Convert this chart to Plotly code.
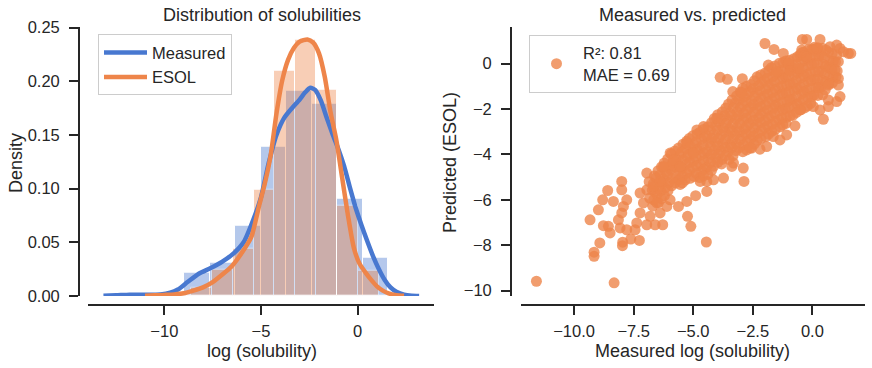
import plotly.graph_objects as go

# ---------------- data ----------------
# histogram (density) of measured log solubility: bin edges + densities
meas_edges = [-11.6, -10.282, -8.964, -7.646, -6.328, -5.01, -3.692, -2.374, -1.056, 0.262, 1.58]
meas_density = [0.0007, 0.003, 0.0218, 0.0308, 0.0656, 0.139, 0.191, 0.179, 0.0908, 0.0358]

# histogram (density) of ESOL predictions
esol_edges = [-9.702, -8.623, -7.543, -6.464, -5.385, -4.305, -3.226, -2.147, -1.067, 0.012, 1.091]
esol_density = [0.0016, 0.0078, 0.0246, 0.0442, 0.0986, 0.2096, 0.239, 0.192, 0.0846, 0.0233]

# KDE curves
kde_meas_x = [-13.15, -12.5, -11.8, -11.0, -10.2, -9.7, -9.3, -8.8, -8.2, -7.6, -7.0, -6.4, -5.9, -5.4,
              -5.0, -4.6, -4.2, -3.8, -3.4, -3.0, -2.7, -2.45, -2.2, -1.9, -1.6, -1.3, -1.0, -0.7,
              -0.4, -0.1, 0.2, 0.5, 0.8, 1.1, 1.4, 1.7, 2.0, 2.4, 2.8, 3.18]
kde_meas_y = [0.0002, 0.0006, 0.0012, 0.0012, 0.0015, 0.003, 0.006, 0.013, 0.021, 0.026, 0.032, 0.040,
              0.050, 0.071, 0.092, 0.124, 0.150, 0.166, 0.175, 0.183, 0.190, 0.194, 0.192, 0.182,
              0.166, 0.151, 0.137, 0.121, 0.101, 0.082, 0.066, 0.051, 0.037, 0.025, 0.015, 0.008,
              0.004, 0.0012, 0.0003, 0.0001]

kde_esol_x = [-11.0, -10.5, -10.0, -9.5, -9.0, -8.5, -8.0, -7.5, -7.0, -6.5, -6.0, -5.5, -5.1, -4.8,
              -4.5, -4.2, -3.9, -3.6, -3.3, -3.0, -2.6, -2.3, -2.0, -1.7, -1.4, -1.1, -0.8, -0.5,
              -0.2, 0.1, 0.4, 0.7, 1.0, 1.3, 1.6, 2.0, 2.4]
kde_esol_y = [0.0002, 0.0006, 0.001, 0.0015, 0.0025, 0.005, 0.008, 0.013, 0.020, 0.028, 0.040, 0.055,
              0.084, 0.105, 0.131, 0.170, 0.201, 0.220, 0.231, 0.237, 0.239, 0.236, 0.226, 0.204,
              0.171, 0.145, 0.110, 0.075, 0.045, 0.030, 0.022, 0.015, 0.009, 0.005, 0.0025, 0.0008,
              0.0002]

# scatter: measured (x) vs ESOL predicted (y)
# dense core, part A
core_a_measured = [
    -6.85, -6.72, -6.83, -6.7,
    -6.48, -6.56, -6.44, -6.52, -6.46,
    -6.22, -6.15, -6.25, -6.18, -6.21,
    -5.92, -5.86, -5.95, -5.88, -5.91,
    -5.62, -5.57, -5.64, -5.58, -5.61, -5.55,
    -5.28, -5.33, -5.26, -5.31, -5.27, -5.34,
    -5.02, -4.97, -5.04, -4.98, -5.03, -4.96,
    -4.72, -4.66, -4.74, -4.68, -4.71, -4.65, -4.73,
    -4.38, -4.43, -4.36, -4.42, -4.37, -4.44, -4.39,
    -4.12, -4.06, -4.13, -4.08, -4.11, -4.05, -4.14,
    -3.78, -3.83, -3.76, -3.82, -3.77, -3.84, -3.79, -3.81,
    -3.52, -3.46, -3.53, -3.48, -3.51, -3.45, -3.54, -3.49,
    -3.18, -3.23, -3.16, -3.22, -3.17, -3.24, -3.19, -3.21,
    -2.92, -2.86, -2.93, -2.88, -2.91, -2.85, -2.94, -2.89, -2.92,
    -2.58, -2.63, -2.56, -2.62, -2.57, -2.64, -2.59, -2.61, -2.55,
    -2.32, -2.26, -2.33, -2.28, -2.31, -2.25, -2.34, -2.29, -2.31,
    -1.98, -2.03, -1.96, -2.02, -1.97, -2.04, -1.99, -2.01, -1.95,
    -1.72, -1.66, -1.73, -1.68, -1.71, -1.65, -1.74, -1.69, -1.71,
    -1.38, -1.43, -1.36, -1.42, -1.37, -1.44, -1.39, -1.41, -1.35,
    -1.12, -1.06, -1.13, -1.08, -1.11, -1.05, -1.14, -1.09, -1.11,
    -0.78, -0.83, -0.76, -0.82, -0.77, -0.84, -0.79, -0.81,
    -0.52, -0.46, -0.53, -0.48, -0.51, -0.45, -0.54, -0.49,
    -0.18, -0.23, -0.16, -0.22, -0.17, -0.24, -0.19, -0.21,
    0.08, 0.14, 0.07, 0.12, 0.09, 0.15, 0.06,
    0.42, 0.37, 0.44, 0.38, 0.41, 0.36, 0.43,
    0.68, 0.74, 0.67, 0.72, 0.69,
    1.02, 0.97, 1.04, 0.99,
]
core_a_esol = [
    -5.2, -5.57, -5.92, -6.28,
    -4.72, -5.03, -5.42, -5.77, -6.12,
    -4.38, -4.77, -5.08, -5.47, -5.82,
    -3.98, -4.37, -4.68, -5.07, -5.38,
    -3.72, -4.03, -4.42, -4.73, -5.12, -5.32,
    -3.42, -3.73, -4.12, -4.43, -4.82, -5.13,
    -3.18, -3.57, -3.88, -4.27, -4.58, -4.97,
    -3.02, -3.33, -3.72, -4.03, -4.42, -4.73, -5.02,
    -2.78, -3.17, -3.48, -3.87, -4.18, -4.57, -4.88,
    -2.42, -2.73, -3.12, -3.43, -3.82, -4.13, -4.52,
    -2.12, -2.43, -2.82, -3.13, -3.52, -3.83, -4.22, -4.42,
    -1.78, -2.17, -2.48, -2.87, -3.18, -3.57, -3.88, -4.22,
    -1.42, -1.73, -2.12, -2.43, -2.82, -3.13, -3.52, -3.83,
    -1.08, -1.47, -1.78, -2.17, -2.48, -2.87, -3.18, -3.57, -3.88,
    -0.92, -1.23, -1.62, -1.93, -2.32, -2.63, -3.02, -3.33, -3.72,
    -0.58, -0.97, -1.28, -1.67, -1.98, -2.37, -2.68, -3.07, -3.38,
    -0.42, -0.73, -1.12, -1.43, -1.82, -2.13, -2.52, -2.83, -3.22,
    -0.18, -0.57, -0.88, -1.27, -1.58, -1.97, -2.28, -2.67, -2.98,
    0.02, -0.37, -0.68, -1.07, -1.38, -1.77, -2.08, -2.47, -2.78,
    0.12, -0.27, -0.58, -0.97, -1.28, -1.67, -1.98, -2.37, -2.63,
    0.22, -0.17, -0.48, -0.87, -1.18, -1.57, -1.88, -2.27,
    0.38, 0.07, -0.32, -0.63, -1.02, -1.33, -1.72, -2.03,
    0.62, 0.23, -0.08, -0.47, -0.78, -1.17, -1.48, -1.87,
    0.72, 0.33, 0.02, -0.37, -0.68, -1.07, -1.38,
    0.68, 0.37, -0.02, -0.33, -0.72, -1.03, -1.37,
    0.52, 0.13, -0.18, -0.57, -0.88,
    0.38, 0.07, -0.32, -0.58,
]
# dense core, part B (points lying between those of part A)
core_b_measured = [
    -6.63, -6.68, -6.61, -6.66,
    -6.33, -6.38, -6.31, -6.36, -6.34,
    -6.07, -6.02, -6.08, -6.03, -6.06,
    -5.77, -5.72, -5.78, -5.73, -5.76,
    -5.43, -5.48, -5.42, -5.47, -5.44, -5.46,
    -5.17, -5.12, -5.18, -5.13, -5.16, -5.14,
    -4.83, -4.88, -4.82, -4.87, -4.84, -4.86,
    -4.57, -4.52, -4.58, -4.53, -4.56, -4.54, -4.57,
    -4.23, -4.28, -4.22, -4.27, -4.24, -4.26, -4.23,
    -3.97, -3.92, -3.98, -3.93, -3.96, -3.94, -3.97,
    -3.63, -3.68, -3.62, -3.67, -3.64, -3.66, -3.63,
    -3.37, -3.32, -3.38, -3.33, -3.36, -3.34, -3.37, -3.33,
    -3.03, -3.08, -3.02, -3.07, -3.04, -3.06, -3.03, -3.07,
    -2.77, -2.72, -2.78, -2.73, -2.76, -2.74, -2.77, -2.73, -2.76,
    -2.43, -2.48, -2.42, -2.47, -2.44, -2.46, -2.43, -2.47, -2.44,
    -2.17, -2.12, -2.18, -2.13, -2.16, -2.14, -2.17, -2.13, -2.16,
    -1.83, -1.88, -1.82, -1.87, -1.84, -1.86, -1.83, -1.87, -1.84,
    -1.57, -1.52, -1.58, -1.53, -1.56, -1.54, -1.57, -1.53, -1.56,
    -1.23, -1.28, -1.22, -1.27, -1.24, -1.26, -1.23, -1.27, -1.24,
    -0.97, -0.92, -0.98, -0.93, -0.96, -0.94, -0.97, -0.93,
    -0.63, -0.68, -0.62, -0.67, -0.64, -0.66, -0.63, -0.67,
    -0.37, -0.32, -0.38, -0.33, -0.36, -0.34, -0.37, -0.33,
    -0.03, -0.08, -0.02, -0.07, -0.04, -0.06, -0.03, -0.07,
    0.23, 0.28, 0.22, 0.27, 0.24, 0.26, 0.23,
    0.57, 0.52, 0.58, 0.53, 0.56, 0.54,
    0.83, 0.88, 0.82, 0.87, 0.84,
]
core_b_esol = [
    -4.95, -5.3, -5.65, -6.0,
    -4.55, -4.9, -5.25, -5.6, -5.95,
    -4.2, -4.55, -4.9, -5.25, -5.6,
    -3.85, -4.2, -4.55, -4.9, -5.25,
    -3.55, -3.9, -4.25, -4.6, -4.95, -5.25,
    -3.3, -3.65, -4.0, -4.35, -4.7, -5.05,
    -3.1, -3.45, -3.8, -4.15, -4.5, -4.85,
    -2.9, -3.25, -3.6, -3.95, -4.3, -4.65, -4.95,
    -2.6, -2.95, -3.3, -3.65, -4.0, -4.35, -4.7,
    -2.25, -2.6, -2.95, -3.3, -3.65, -4.0, -4.35,
    -1.95, -2.3, -2.65, -3.0, -3.35, -3.7, -4.05,
    -1.6, -1.95, -2.3, -2.65, -3.0, -3.35, -3.7, -4.05,
    -1.25, -1.6, -1.95, -2.3, -2.65, -3.0, -3.35, -3.7,
    -1.0, -1.35, -1.7, -2.05, -2.4, -2.75, -3.1, -3.45, -3.8,
    -0.75, -1.1, -1.45, -1.8, -2.15, -2.5, -2.85, -3.2, -3.55,
    -0.5, -0.85, -1.2, -1.55, -1.9, -2.25, -2.6, -2.95, -3.3,
    -0.3, -0.65, -1.0, -1.35, -1.7, -2.05, -2.4, -2.75, -3.1,
    -0.1, -0.45, -0.8, -1.15, -1.5, -1.85, -2.2, -2.55, -2.9,
    0.05, -0.3, -0.65, -1.0, -1.35, -1.7, -2.05, -2.4, -2.7,
    0.15, -0.2, -0.55, -0.9, -1.25, -1.6, -1.95, -2.3,
    0.3, -0.05, -0.4, -0.75, -1.1, -1.45, -1.8, -2.15,
    0.5, 0.15, -0.2, -0.55, -0.9, -1.25, -1.6, -1.95,
    0.65, 0.3, -0.05, -0.4, -0.75, -1.1, -1.45, -1.75,
    0.7, 0.35, 0.0, -0.35, -0.7, -1.05, -1.4,
    0.6, 0.25, -0.1, -0.45, -0.8, -1.15,
    0.45, 0.1, -0.25, -0.6, -0.85,
]
# sparse / outlying points
sparse_measured = [
    -11.58, -8.32, -9.16, -9.16, -8.92, -9.33, -8.98, -4.45, -7.97, -7.96, -7.26, -7.62,
    -8.80, -8.59, -8.35, -8.0, -8.0, -8.77, -8.56, -8.49, -8.14, -8.07, -7.79, -8.0,
    -7.93, -7.79, -7.44, -7.37, -7.23, -7.09, -7.23, -6.95, -6.95, -6.95, -6.60, -6.28,
    -6.81, -6.39, -6.53, -6.11, -5.97, -5.62, -5.27, -5.24, -5.10, -4.90, -4.43, -6.67,
    -6.39, -6.25, -5.97, -5.83, -5.55, -5.27, -4.99, -4.85, -4.57, -4.01, -3.87, -3.57,
    -2.94, -2.90, -2.87, -3.34, -2.97, -3.38, -3.73, -4.15, -4.43, -4.71,
    -1.99, -1.61, -1.22, -1.01, -0.42, -0.24, 0.32, -0.45, -0.45, -0.35, 0.04, 0.74,
    1.02, 1.16, 1.51, 1.61, 1.30, 1.09, 0.95, 1.09, 1.09, 0.67, 0.67, 1.02, 1.16, 0.67,
    0.32, 0.46, 0.04, -0.52, -0.73, -1.08, -1.36, -1.64, -1.92, -2.20, -2.62, -3.31,
    -1.85, -1.50, -0.94, -0.59, -0.24, 0.18,
]
sparse_esol = [
    -9.59, -9.66, -8.31, -8.49, -7.90, -6.88, -6.44, -7.86, -8.02, -7.87, -7.79, -7.73,
    -6.0, -5.59, -6.07, -5.19, -5.56, -7.14, -7.17, -7.46, -6.88, -7.24, -7.32, -6.58,
    -6.29, -6.0, -7.32, -7.02, -6.58, -6.14, -5.70, -5.56, -4.82, -7.10, -7.10, -7.10,
    -6.73, -6.58, -6.14, -6.29, -6.0, -6.29, -6.07, -6.73, -7.17, -5.82, -5.63, -5.41,
    -5.19, -4.53, -3.94, -4.24, -4.53, -3.50, -3.94, -2.92, -2.77, -2.40, -0.60, -0.69,
    -0.66, -4.60, -5.19, -1.23, -1.28, -4.53, -5.04, -5.12, -5.19, -5.19,
    0.89, 0.63, 0.45, 0.01, 1.07, 1.07, 1.07, 0.60, 0.48, 0.34, 0.60, 0.75,
    0.82, 0.67, 0.45, 0.45, 0.53, 0.09, -0.28, -0.65, -0.94, -0.94, -1.60, -1.67, -1.45, -1.89,
    -2.04, -2.45, -1.89, -2.04, -2.74, -3.14, -3.36, -3.21, -3.65, -3.77, -3.72, -4.38,
    -0.06, -0.35, -0.31, -0.21, 0.31, 0.67,
]

left_yticks = [0.0, 0.05, 0.10, 0.15, 0.20, 0.25]
left_xticks = [-10, -5, 0]
right_xticks = [-10.0, -7.5, -5.0, -2.5, 0.0]
right_yticks = [-10, -8, -6, -4, -2, 0]

BLUE = "#4878d0"
ORANGE = "#ee854a"
INK = "#262626"
FONT = "Liberation Sans, Arial, sans-serif"

W, H = 872, 368


def px_x(p):
    return p / W


def px_y(p):
    return 1 - p / H


fig = go.Figure()

# histograms
meas_centers = [(a + b) / 2 for a, b in zip(meas_edges[:-1], meas_edges[1:])]
meas_widths = [b - a for a, b in zip(meas_edges[:-1], meas_edges[1:])]
esol_centers = [(a + b) / 2 for a, b in zip(esol_edges[:-1], esol_edges[1:])]
esol_widths = [b - a for a, b in zip(esol_edges[:-1], esol_edges[1:])]

fig.add_trace(go.Bar(x=meas_centers, y=meas_density, width=meas_widths,
                     marker=dict(color=BLUE, line=dict(color="white", width=1)),
                     opacity=0.4, showlegend=False, hoverinfo="skip",
                     xaxis="x", yaxis="y"))
fig.add_trace(go.Bar(x=esol_centers, y=esol_density, width=esol_widths,
                     marker=dict(color=ORANGE, line=dict(color="white", width=1)),
                     opacity=0.4, showlegend=False, hoverinfo="skip",
                     xaxis="x", yaxis="y"))

fig.add_trace(go.Scatter(x=kde_meas_x, y=kde_meas_y, mode="lines", name="Measured",
                         line=dict(color=BLUE, width=4.5, shape="spline", smoothing=0.6),
                         xaxis="x", yaxis="y", legend="legend"))
fig.add_trace(go.Scatter(x=kde_esol_x, y=kde_esol_y, mode="lines", name="ESOL",
                         line=dict(color=ORANGE, width=4.5, shape="spline", smoothing=0.6),
                         xaxis="x", yaxis="y", legend="legend"))

all_measured = core_a_measured + core_b_measured + sparse_measured
all_esol = core_a_esol + core_b_esol + sparse_esol
fig.add_trace(go.Scatter(x=all_measured, y=all_esol, mode="markers",
                         name="R²: 0.81<br>MAE = 0.69",
                         marker=dict(color=ORANGE, size=11, opacity=0.8, line=dict(width=0)),
                         xaxis="x2", yaxis="y2", legend="legend2"))

axis_style = dict(showline=True, linecolor=INK, linewidth=1.9, ticks="outside", ticklen=9,
                  tickwidth=1.9, tickcolor=INK, showgrid=False, zeroline=False,
                  tickfont=dict(family=FONT, size=16.5, color=INK))

y_dom = [px_y(296), px_y(26.7)]
x_pos = px_y(305)

fig.update_layout(
    width=W, height=H, margin=dict(l=0, r=0, t=0, b=0, autoexpand=False),
    paper_bgcolor="white", plot_bgcolor="white",
    barmode="overlay", bargap=0,
    font=dict(family=FONT, size=16.5, color=INK),
    xaxis=dict(domain=[px_x(88), px_x(434)], range=[-13.95, 3.95], anchor="free", position=x_pos,
               tickvals=left_xticks, ticklabelstandoff=2, **axis_style),
    yaxis=dict(domain=y_dom, range=[0, 0.2509], anchor="free", position=px_x(79),
               tickvals=left_yticks, tickformat=".2f", ticklabelstandoff=6, **axis_style),
    xaxis2=dict(domain=[px_x(520.7), px_x(865.3)], range=[-12.24, 2.22], anchor="free",
                position=x_pos, tickvals=right_xticks, tickformat=".1f", ticklabelstandoff=2,
                **axis_style),
    yaxis2=dict(domain=y_dom, range=[-10.24, 1.63], anchor="free", position=px_x(511),
                tickvals=right_yticks, ticklabelstandoff=6, **axis_style),
    legend=dict(x=px_x(98), y=px_y(34.3), xanchor="left", yanchor="top", itemwidth=43,
                bgcolor="rgba(255,255,255,0.8)", bordercolor="#cccccc", borderwidth=1,
                font=dict(family=FONT, size=16.5, color=INK)),
    legend2=dict(x=px_x(529), y=px_y(34.7), xanchor="left", yanchor="top", itemwidth=43,
                 bgcolor="rgba(255,255,255,0.8)", bordercolor="#cccccc", borderwidth=1,
                 font=dict(family=FONT, size=16.5, color=INK)),
)

annots = [
    dict(text="Distribution of solubilities", x=px_x(261.7), y=px_y(15), size=18, angle=0),
    dict(text="Measured vs. predicted", x=px_x(692.7), y=px_y(15), size=18, angle=0),
    dict(text="log (solubility)", x=px_x(261.7), y=px_y(351), size=18, angle=0),
    dict(text="Measured log (solubility)", x=px_x(692.7), y=px_y(351), size=18, angle=0),
    dict(text="Density", x=px_x(16), y=px_y(163), size=18, angle=-90),
    dict(text="Predicted (ESOL)", x=px_x(450), y=px_y(162), size=18, angle=-90),
]
for a in annots:
    fig.add_annotation(text=a["text"], x=a["x"], y=a["y"], xref="paper", yref="paper",
                       xanchor="center", yanchor="middle", showarrow=False, textangle=a["angle"],
                       font=dict(family=FONT, size=a["size"], color=INK))

fig.write_html("out.html", config={"displayModeBar": False},
               post_script="document.body.style.margin='0';document.body.style.padding='0';")
